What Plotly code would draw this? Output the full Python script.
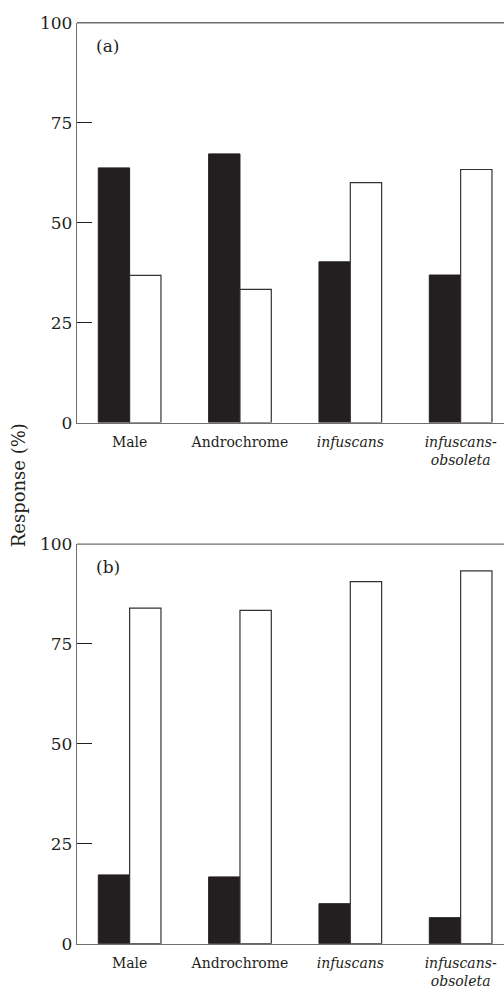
import plotly.graph_objects as go

categories = ["Male", "Androchrome", "<i>infuscans</i>", "<i>infuscans-</i><br><i>obsoleta</i>"]
panel_a_black = [63.7, 67.2, 40.2, 36.9]
panel_a_white = [36.8, 33.3, 60.0, 63.3]
panel_b_black = [17.2, 16.7, 10.0, 6.5]
panel_b_white = [84.0, 83.4, 90.6, 93.3]
y_ticks = [0, 25, 50, 75, 100]

FONT = "DejaVu Serif"
BLACK = "#231f20"
AXIS = "#6e6e6e"

fig = go.Figure()
xs = list(range(len(categories)))

for vals_k, vals_w, xa, ya in [
    (panel_a_black, panel_a_white, "x", "y"),
    (panel_b_black, panel_b_white, "x2", "y2"),
]:
    fig.add_trace(go.Bar(x=xs, y=vals_k, xaxis=xa, yaxis=ya,
                         marker=dict(color=BLACK, line=dict(color=BLACK, width=1)),
                         showlegend=False, hoverinfo="skip"))
    fig.add_trace(go.Bar(x=xs, y=vals_w, xaxis=xa, yaxis=ya,
                         marker=dict(color="white", line=dict(color="#333333", width=1.2)),
                         showlegend=False, hoverinfo="skip"))

xcommon = dict(
    range=[-0.477, 3.393], tickmode="array", tickvals=xs, ticktext=categories,
    showline=True, linecolor=AXIS, linewidth=1.3, mirror=False, ticks="",
    showgrid=False, zeroline=False, domain=[77 / 504, 1.0],
    ticklabelstandoff=6,
    tickfont=dict(family=FONT, size=14, color="#231f20"),
)
ycommon = dict(
    range=[0, 100], tickmode="array", tickvals=y_ticks,
    showline=True, linecolor=AXIS, linewidth=1.3, ticks="inside", ticklen=15,
    tickcolor="#231f20", tickwidth=1.3, showgrid=False, zeroline=False,
    tickfont=dict(family=FONT, size=17, color="#231f20"),
)

shapes = []
for xa, ya in [("x", "y"), ("x2", "y2")]:
    shapes.append(dict(type="line", xref="paper", yref=f"{ya} domain",
                       x0=77 / 504, x1=1.0, y0=1, y1=1, line=dict(color=AXIS, width=1.3)))

fig.update_layout(
    width=504, height=1000, margin=dict(l=0, r=0, t=0, b=0),
    paper_bgcolor="white", plot_bgcolor="white",
    barmode="group", bargap=0.432, bargroupgap=0,
    xaxis=dict(**xcommon, anchor="y"),
    yaxis=dict(**ycommon, anchor="x", domain=[0.579, 0.987]),
    xaxis2=dict(**xcommon, anchor="y2"),
    yaxis2=dict(**ycommon, anchor="x2", domain=[0.0473, 0.455]),
    shapes=shapes,
    annotations=[
        dict(text="(a)", x=94 / 504, y=1 - 37 / 1000, xref="paper", yref="paper",
             xanchor="left", yanchor="middle", showarrow=False,
             font=dict(family=FONT, size=17, color="#231f20")),
        dict(text="(b)", x=94 / 504, y=1 - 568 / 1000, xref="paper", yref="paper",
             xanchor="left", yanchor="middle", showarrow=False,
             font=dict(family=FONT, size=17, color="#231f20")),
        dict(text="Response (%)", x=18 / 504, y=1 - 485 / 1000, xref="paper", yref="paper",
             xanchor="center", yanchor="middle", showarrow=False, textangle=-90,
             font=dict(family=FONT, size=18, color="#231f20")),
    ],
)

fig.write_html("out.html")
